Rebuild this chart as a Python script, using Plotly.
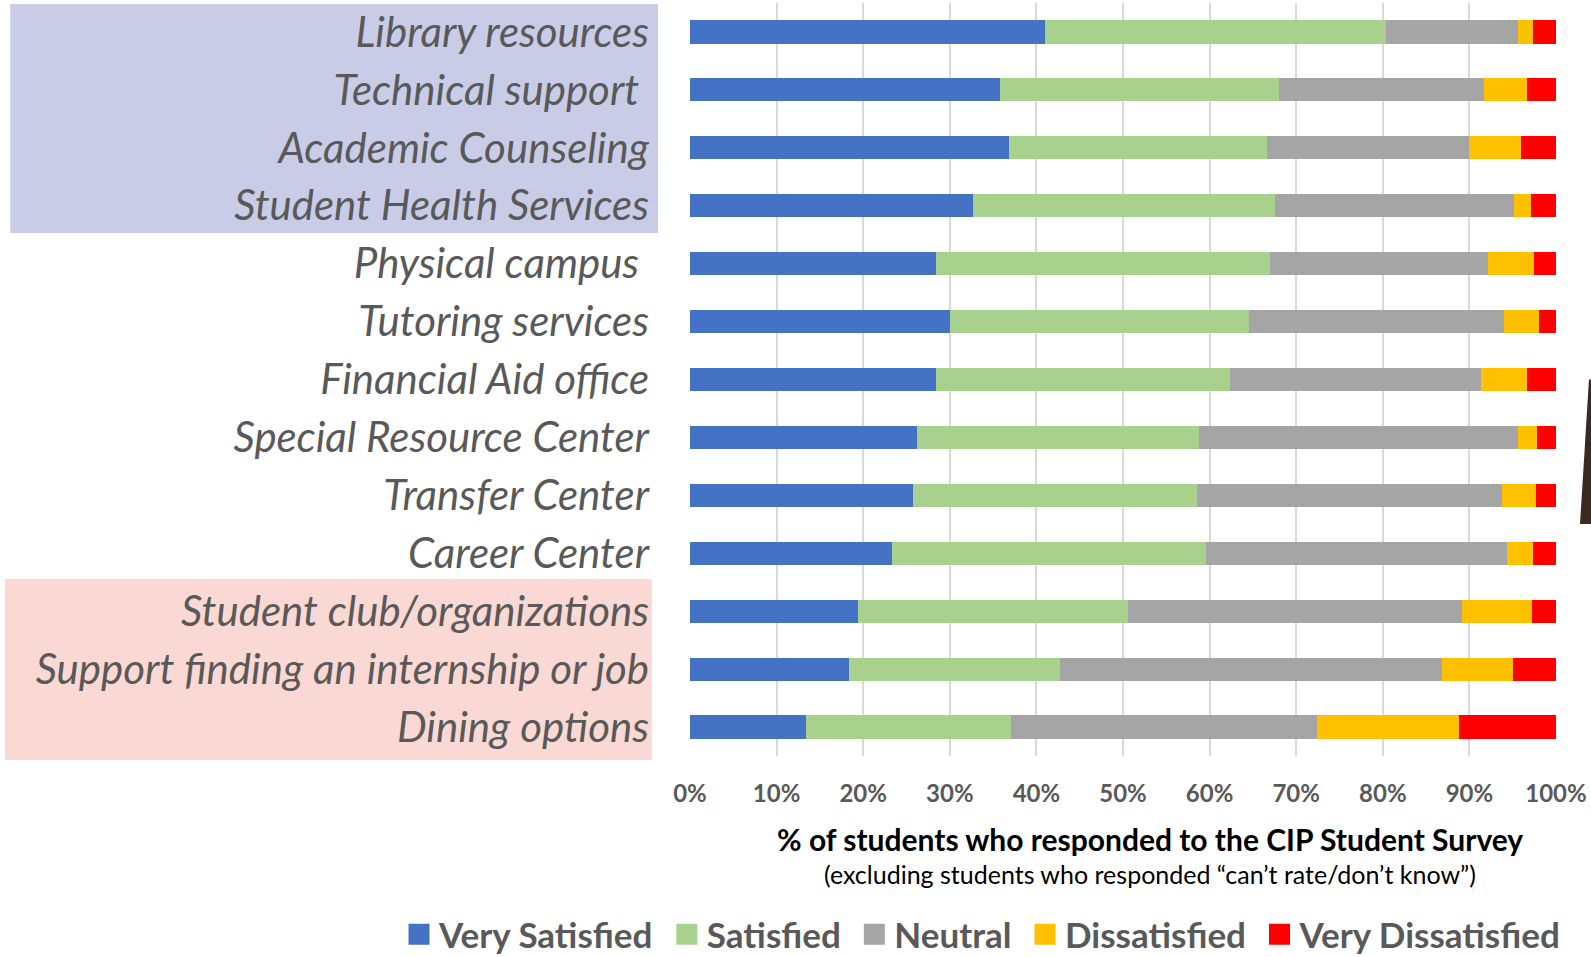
import plotly.graph_objects as go

services = [
    "Library resources", "Technical support\u00a0", "Academic Counseling",
    "Student Health Services", "Physical campus\u00a0", "Tutoring services",
    "Financial Aid office", "Special Resource Center", "Transfer Center",
    "Career Center", "Student club/organizations",
    "Support finding an internship or job", "Dining options",
]
very_satisfied = [41.0, 35.8, 36.8, 32.7, 28.4, 30.0, 28.4, 26.2, 25.7, 23.3, 19.4, 18.4, 13.4]
satisfied = [39.4, 32.2, 29.8, 34.9, 38.6, 34.5, 34.0, 32.6, 32.8, 36.3, 31.2, 24.3, 23.7]
neutral = [15.2, 23.7, 23.3, 27.6, 25.2, 29.5, 28.9, 36.8, 35.3, 34.7, 38.5, 44.1, 35.3]
dissatisfied = [1.8, 4.9, 6.1, 1.9, 5.3, 4.0, 5.3, 2.2, 3.9, 3.0, 8.1, 8.2, 16.4]
very_dissatisfied = [2.6, 3.4, 4.0, 2.9, 2.5, 2.0, 3.4, 2.2, 2.3, 2.7, 2.8, 5.0, 11.2]

series = [
    ("Very Satisfied", very_satisfied, "#4472C4"),
    ("Satisfied", satisfied, "#A9D18E"),
    ("Neutral", neutral, "#A5A5A5"),
    ("Dissatisfied", dissatisfied, "#FFC000"),
    ("Very Dissatisfied", very_dissatisfied, "#FF0000"),
]

FONT = "Lato"
GREY = "#595959"

fig = go.Figure()
for name, vals, color in series:
    fig.add_trace(go.Bar(y=services, x=vals, orientation="h", name=name,
                         marker=dict(color=color, line=dict(width=0)),
                         showlegend=False))
    # legend-only marker so the legend squares can be large
    fig.add_trace(go.Scatter(x=[None], y=[None], mode="markers", name=name + "\u00a0",
                             marker=dict(symbol="square", size=16, color=color,
                                         line=dict(width=5, color=color))))

fig.update_layout(
    width=1591, height=957,
    margin=dict(l=690, r=35, t=3, b=201, autoexpand=False),
    barmode="stack", bargap=0.6,
    plot_bgcolor="white", paper_bgcolor="white",
    font=dict(family=FONT, color=GREY),
    legend=dict(orientation="h", x=-0.336, xanchor="left", y=-0.237, yanchor="middle",
                font=dict(size=35, color=GREY, family=FONT, weight="bold"),
                itemwidth=30, tracegroupgap=0, traceorder="normal"),
)
fig.update_xaxes(range=[0, 100], dtick=10, ticksuffix="%", showgrid=True,
                 gridcolor="#D9D9D9", gridwidth=2, zeroline=False,
                 showline=False, ticks="", ticklabelstandoff=21,
                 tickfont=dict(size=24, color=GREY, family=FONT, weight="bold"))
fig.update_yaxes(autorange="reversed", showgrid=False, ticks="", showline=False,
                 ticklabelstandoff=40,
                 tickfont=dict(size=42, color=GREY, family=FONT, style="italic"))

# highlight boxes behind the category labels
fig.add_shape(type="rect", xref="paper", yref="paper", x0=-0.785, x1=-0.037,
              y0=0.6946, y1=0.9987, fillcolor="#C9CCE6", line_width=0, layer="below")
fig.add_shape(type="rect", xref="paper", yref="paper", x0=-0.791, x1=-0.044,
              y0=-0.0053, y1=0.235, fillcolor="#FAD8D4", line_width=0, layer="below")
# sliver of a photo at the right edge of the slide
fig.add_shape(type="path", xref="paper", yref="paper",
              path="M 1.0404,0.500 L 1.0381,0.500 L 1.0277,0.308 L 1.0404,0.308 Z",
              fillcolor="#3A2A22", line_width=0)

fig.add_annotation(text="<b>% of students who responded to the CIP Student Survey</b>",
                   xref="paper", yref="paper", x=0.531, y=-0.11, showarrow=False,
                   xanchor="center", yanchor="middle",
                   font=dict(size=30, color="black", family=FONT))
fig.add_annotation(text="(excluding students who responded \u201ccan\u2019t rate/don\u2019t know\u201d)",
                   xref="paper", yref="paper", x=0.531, y=-0.157, showarrow=False,
                   xanchor="center", yanchor="middle",
                   font=dict(size=25, color="black", family=FONT))

fig.write_html("out.html", config={"displayModeBar": False},
               post_script="document.body.style.margin='0';")
